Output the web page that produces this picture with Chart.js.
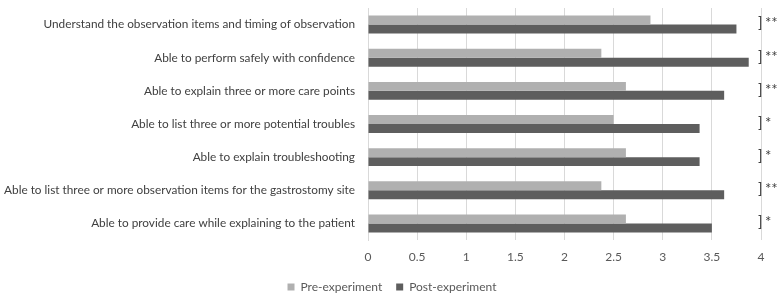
<!DOCTYPE html>
<html>
<head>
<meta charset="utf-8">
<script src="https://cdn.jsdelivr.net/npm/chart.js@4/dist/chart.umd.min.js"></script>
<style>
html,body{margin:0;padding:0;background:#fff;}
#wrap{width:784px;height:299px;}
</style>
</head>
<body>
<div id="wrap"><canvas id="c" width="784" height="299"></canvas></div>
<script>
const categories = [
  "Understand the observation items and timing of observation",
  "Able to perform safely with confidence",
  "Able to explain three or more care points",
  "Able to list three or more potential troubles",
  "Able to explain troubleshooting",
  "Able to list three or more observation items for the gastrostomy site",
  "Able to provide care while explaining to the patient"
];
const preValues  = [2.875, 2.375, 2.625, 2.5, 2.625, 2.375, 2.625];
const postValues = [3.75, 3.875, 3.625, 3.375, 3.375, 3.625, 3.5];
const significance = ["**", "**", "**", "*", "*", "**", "*"];
const seriesNames = ["Pre-experiment", "Post-experiment"];
const xTicks = [0, 0.5, 1, 1.5, 2, 2.5, 3, 3.5, 4];

const FONT = "Lato, 'Liberation Sans', sans-serif";

const sigPlugin = {
  id: 'sig',
  afterDatasetsDraw(chart) {
    const ctx = chart.ctx;
    const area = chart.chartArea;
    const y = chart.scales.y;
    ctx.save();
    ctx.fillStyle = '#404040';
    ctx.textBaseline = 'middle';
    significance.forEach((s, i) => {
      const cy = y.getPixelForValue(i);
      ctx.font = '15px ' + FONT;
      ctx.textAlign = 'left';
      ctx.fillText(']', area.right - 3, cy - 1);
      ctx.fillText(s, area.right + 4, cy - 1);
    });
    ctx.restore();
  }
};

new Chart(document.getElementById('c'), {
  type: 'bar',
  data: {
    labels: categories,
    datasets: [
      { label: seriesNames[0], data: preValues, backgroundColor: '#b0b0b0', categoryPercentage: 0.54, barPercentage: 1.0 },
      { label: seriesNames[1], data: postValues, backgroundColor: '#5e5e5e', categoryPercentage: 0.54, barPercentage: 1.0 }
    ]
  },
  options: {
    indexAxis: 'y',
    responsive: false,
    animation: false,
    layout: { padding: { top: 8, right: 0, left: 0, bottom: -4 } },
    plugins: {
      legend: {
        position: 'bottom',
        labels: {
          boxWidth: 7, boxHeight: 7, padding: 14,
          color: '#595959',
          font: { family: FONT, size: 12 }
        }
      },
      tooltip: { enabled: false }
    },
    scales: {
      x: {
        min: 0, max: 4,
        afterBuildTicks(scale) { scale.ticks = xTicks.map(v => ({ value: v })); },
        afterFit(scale) { scale.height = 27; },
        grid: { color: '#d9d9d9', drawTicks: false },
        border: { display: false },
        ticks: { color: '#595959', padding: 10, font: { family: FONT, size: 12 },
                 callback: (v) => String(v) }
      },
      y: {
        afterFit(scale) { scale.paddingTop = 0; scale.paddingBottom = 0; scale.width = 368; },
        grid: { display: false, drawTicks: false },
        border: { display: true, color: '#d9d9d9' },
        ticks: { color: '#404040', padding: 13, font: { family: FONT, size: 11.8 } }
      },
      yRightSpace: {
        type: 'category',
        position: 'right',
        labels: categories,
        afterFit(scale) { scale.width = 23; scale.paddingTop = 0; scale.paddingBottom = 0; },
        grid: { display: false, drawTicks: false },
        border: { display: false },
        ticks: { display: false }
      }
    }
  },
  plugins: [sigPlugin]
});
</script>
</body>
</html>
